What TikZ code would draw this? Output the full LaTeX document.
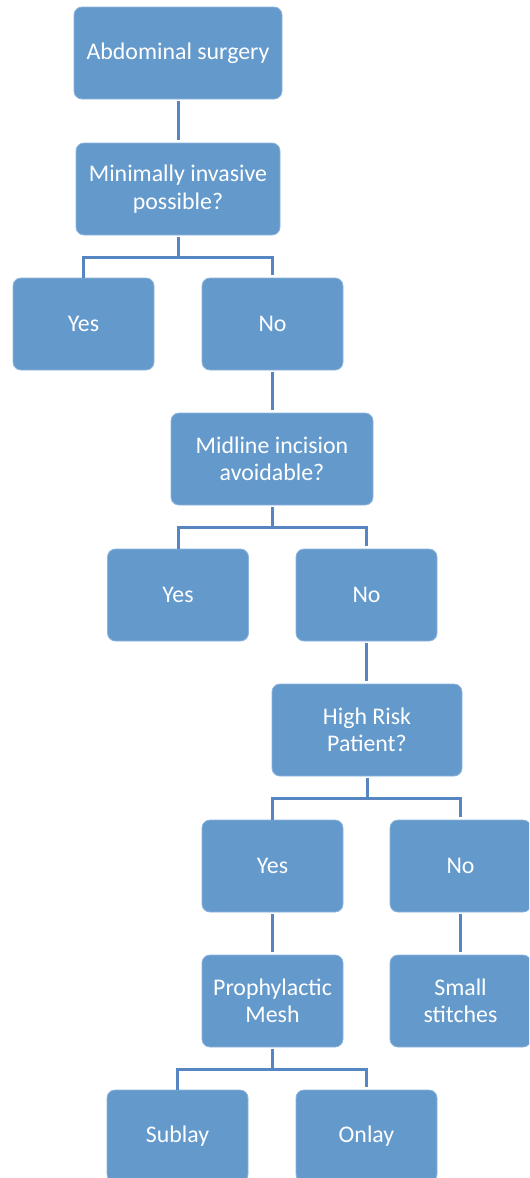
\documentclass[tikz,border=0pt]{standalone}
\usepackage{fontspec}
\setmainfont{Carlito}
\usepackage{tikz}
\usetikzlibrary{calc}

\definecolor{boxfill}{HTML}{6499CC}
\definecolor{boxedge}{HTML}{8DB4DD}
\definecolor{linkcol}{HTML}{5686C2}

\tikzset{
	box/.style={rectangle,rounded corners=6pt,fill=boxfill,draw=boxedge,line width=0.6pt,text=white,align=center,inner sep=0pt,outer sep=0pt,minimum width=105.75pt,minimum height=69pt,font=\fontsize{17.9}{20.5}\selectfont},
	widebox/.style={box,minimum width=#1},
	link/.style={linkcol,line width=2.25pt,shorten <=1.5pt,shorten >=2.5pt}
}

\begin{document}
\begin{tikzpicture}[x=0.75pt,y=-0.75pt]
		
		\clip (0,0) rectangle (529,1178);
		
		\node[widebox=156pt] (abd) at (178,53) {Abdominal surgery};
		\node[widebox=153pt] (mip) at (178,189) {Minimally invasive\\possible?};
		\node[box] (yes1) at (83.5,324) {Yes};
		\node[box] (no1) at (272.5,324) {No};
		
		\node[widebox=151.5pt] (mid) at (272,459) {Midline incision\\avoidable?};
		\node[box] (yes2) at (178,595) {Yes};
		\node[box] (no2) at (366.5,595) {No};
		
		\node[widebox=142.5pt] (risk) at (367,730) {High Risk\\Patient?};
		\node[box] (yes3) at (272.5,866) {Yes};
		\node[box] (no3) at (460.5,866) {No};
		
		\node[box] (mesh) at (272.5,1001) {Prophylactic\\Mesh};
		\node[box] (stitch) at (460.5,1001) {Small\\stitches};
		\node[box] (sub) at (177.5,1136) {Sublay};
		\node[box] (on) at (366.5,1136) {Onlay};
		
		\draw[link] (abd.south) -- (mip.north);
		\draw[link,shorten >=0pt] (mip.south) -- ++(0,22) -| (yes1.north); \draw[link,shorten <=0pt] (mip.south) ++(0,22) -| (no1.north);
		\draw[link] (no1.south) -- (no1.south |- mid.north);
		
		\draw[link,shorten >=0pt] (mid.south) -- ++(0,22) -| (yes2.north); \draw[link,shorten <=0pt] (mid.south) ++(0,22) -| (no2.north);
		\draw[link] (no2.south) -- (no2.south |- risk.north);
		
		\draw[link,shorten >=0pt] (risk.south) -- ++(0,22) -| (yes3.north); \draw[link,shorten <=0pt] (risk.south) ++(0,22) -| (no3.north);
		\draw[link] (yes3.south) -- (mesh.north);
		\draw[link] (no3.south) -- (stitch.north);
		
		\draw[link,shorten >=0pt] (mesh.south) -- ++(0,22) -| (sub.north); \draw[link,shorten <=0pt] (mesh.south) ++(0,22) -| (on.north);
		
\end{tikzpicture}
\end{document}
